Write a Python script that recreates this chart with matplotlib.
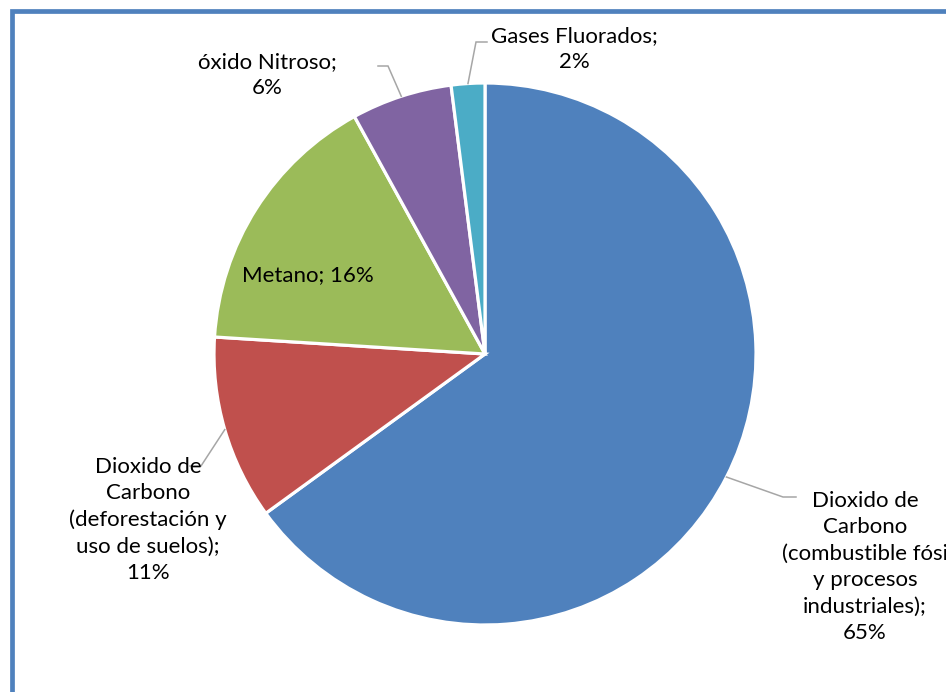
import numpy as np
import matplotlib.pyplot as plt
from matplotlib.patches import Rectangle

plt.rcParams['font.family'] = ['Lato', 'DejaVu Sans']

categories = [
    'Dioxido de\nCarbono\n(combustible fósi\ny procesos\nindustriales);',
    'Dioxido de\nCarbono\n(deforestación y\nuso de suelos);',
    'Metano;',
    'óxido Nitroso;',
    'Gases Fluorados;',
]
values = [65, 11, 16, 6, 2]
colors = ['#4F81BD', '#C0504D', '#9BBB59', '#8064A2', '#4BACC6']

W, H = 946, 692
fig = plt.figure(figsize=(W / 100, H / 100), dpi=100)
ax = fig.add_axes([0, 0, 1, 1])

cx, cy, r = 485, H - 354, 271
wedges, _ = ax.pie(values, colors=colors, startangle=90, counterclock=False,
                   center=(cx, cy), radius=r, frame=True,
                   wedgeprops=dict(edgecolor='white', linewidth=2.3))
ax.set_xlim(0, W)
ax.set_ylim(0, H)
ax.set_aspect('equal')
ax.axis('off')

# label placement: (text x, text y, elbow x, elbow y, end x)  in pixels from top-left
label_pos = [
    (865, 567, 783, 497, 796),
    (148, 520, 201, 466, 190),
    (308, 275, None, None, None),
    (267, 75, 388, 66, 378),
    (574, 49, 476, 42, 487),
]

for w, cat, v, pos in zip(wedges, categories, values, label_pos):
    tx, ty, ex, ey, endx = pos
    if ex is None:
        txt = f'{cat} {v}%'
    else:
        txt = f'{cat}\n{v}%'
        ang = np.deg2rad((w.theta1 + w.theta2) / 2)
        sx, sy = cx + r * np.cos(ang), cy + r * np.sin(ang)
        ax.plot([sx, ex, endx], [sy, H - ey, H - ey], color='#A6A6A6',
                linewidth=1.1, solid_joinstyle='miter')
    ax.text(tx, H - ty, txt, ha='center', va='center', fontsize=16,
            color='#000000', linespacing=1.4)

fig.patches.append(Rectangle((11.5 / W, -0.1), 1.2, (H - 10.5) / H + 0.1,
                             transform=fig.transFigure, fill=False,
                             edgecolor='#4F81BD', linewidth=3.4))

fig.savefig('out.png', dpi=100)
